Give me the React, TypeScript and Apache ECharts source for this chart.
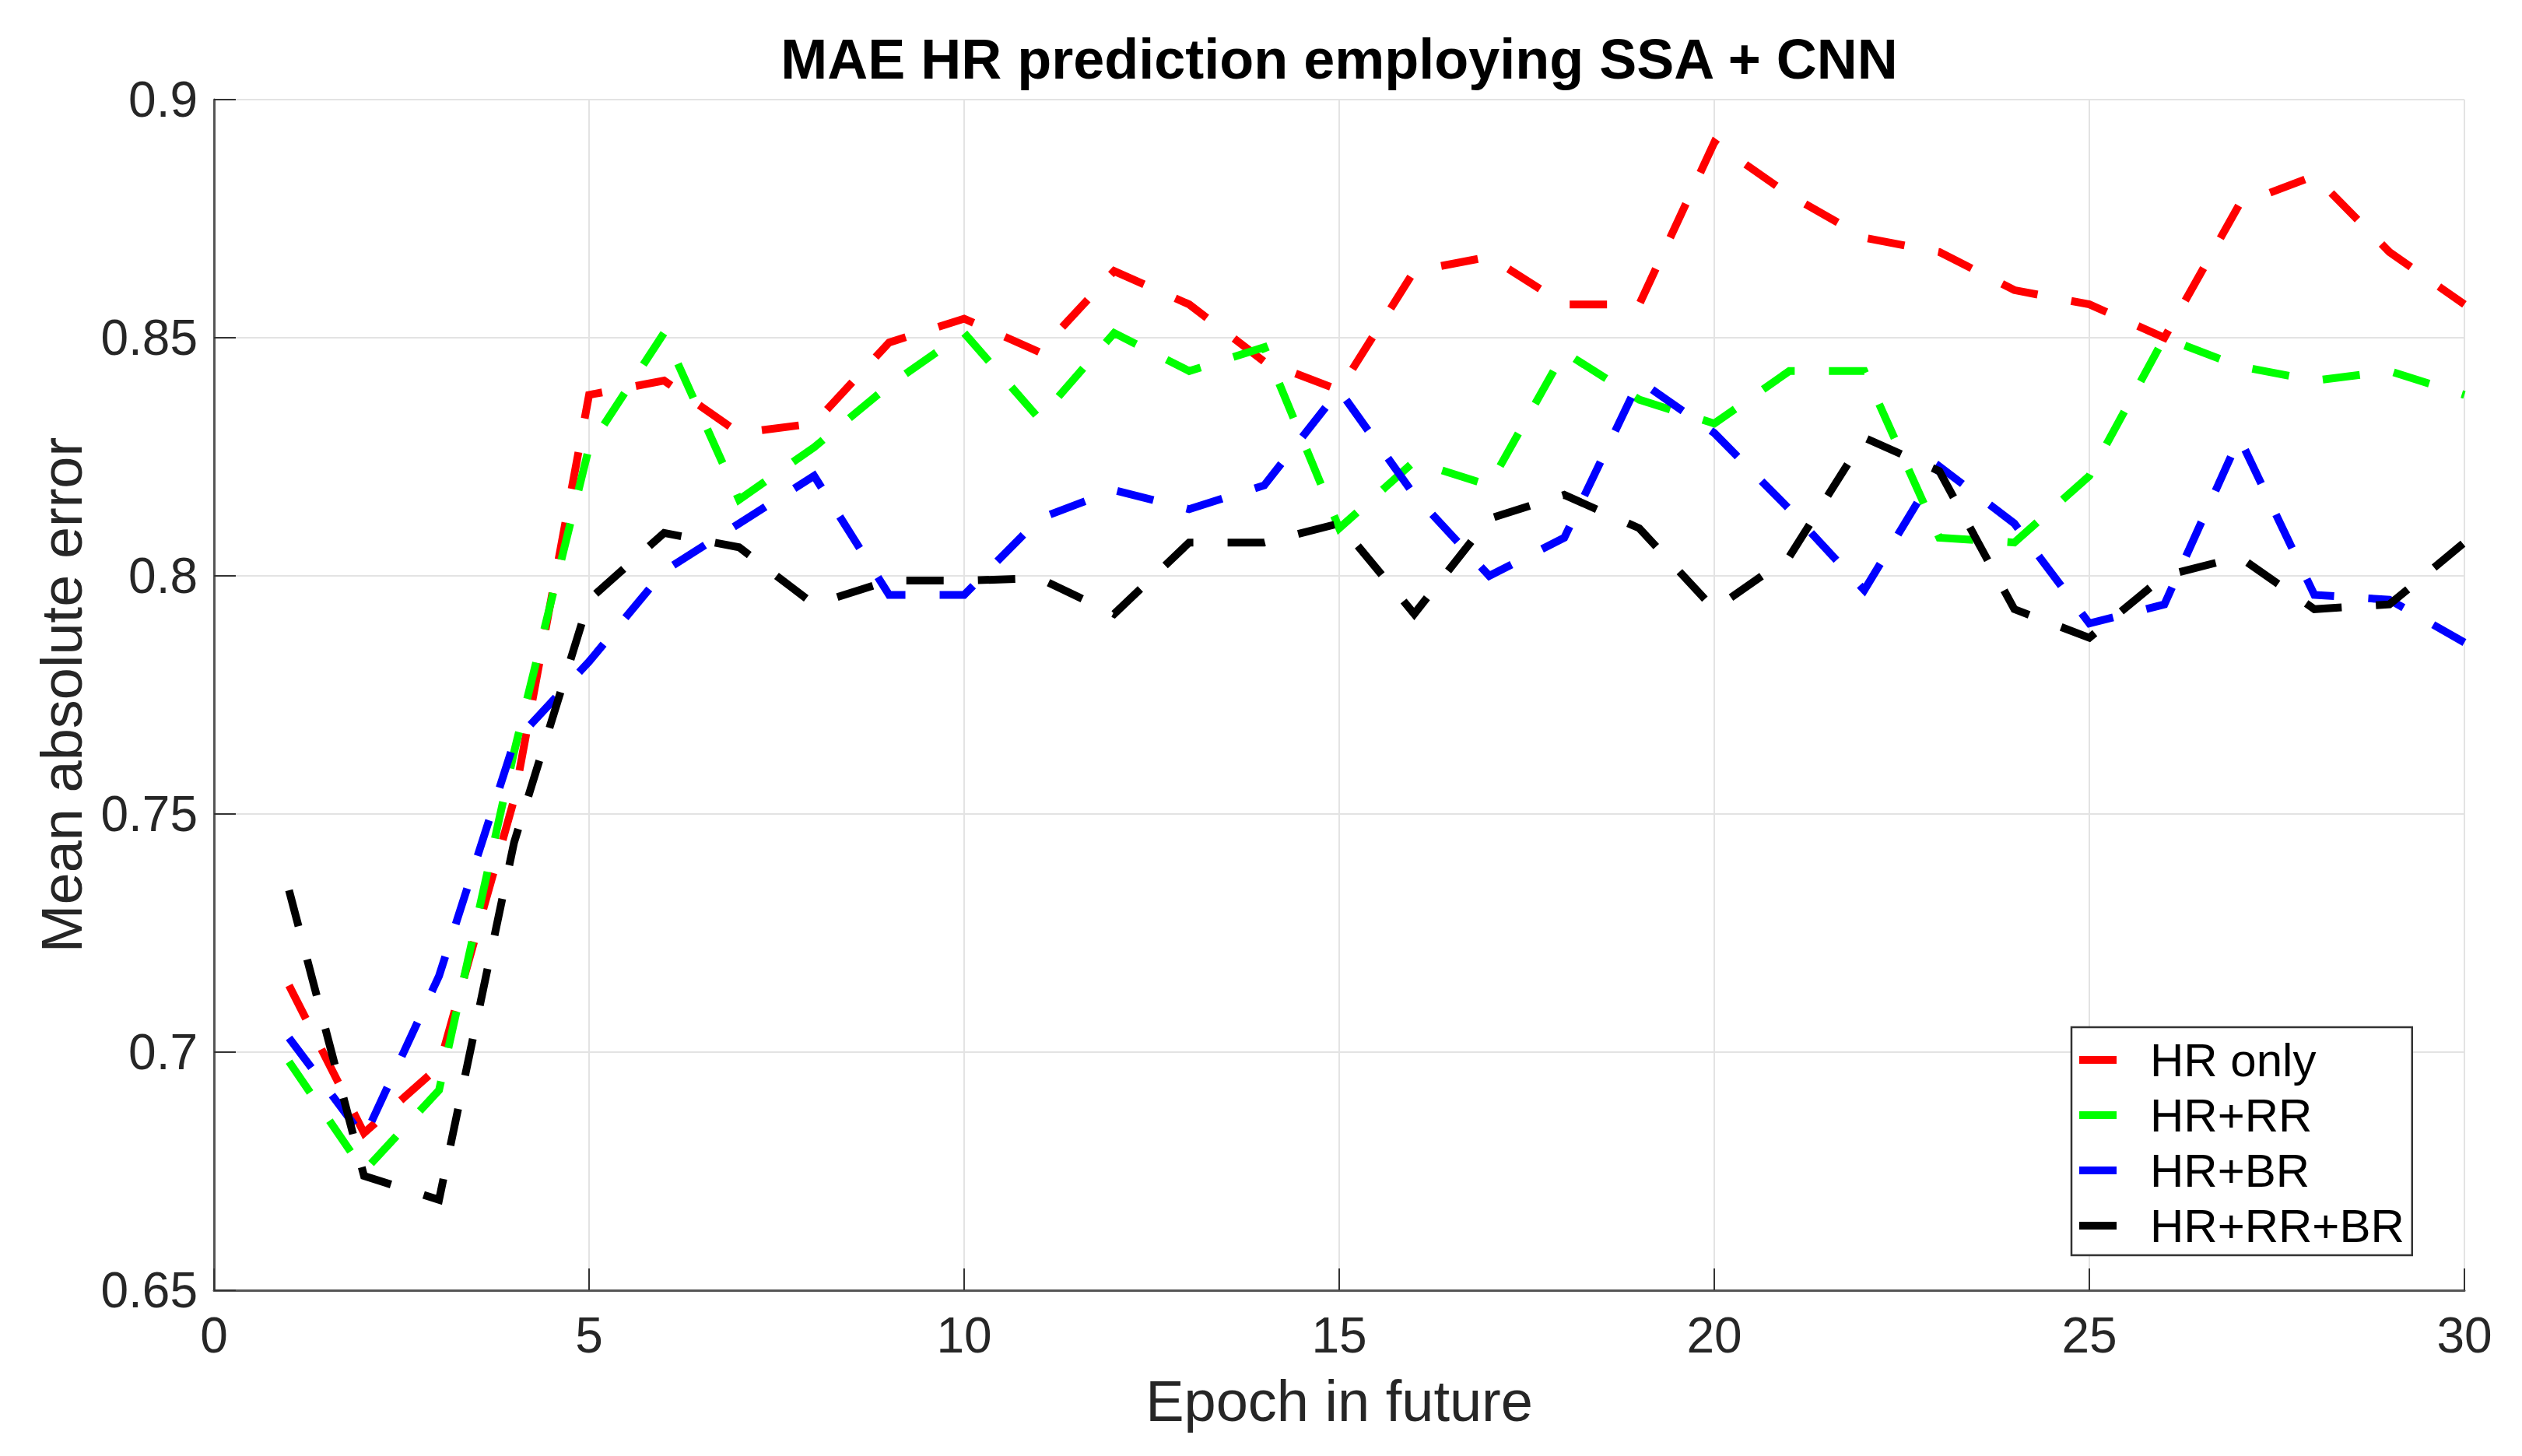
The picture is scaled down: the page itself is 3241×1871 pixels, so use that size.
import React, { useEffect, useRef } from "react";
import * as echarts from "echarts";

const epochs = [1, 2, 3, 4, 5, 6, 7, 8, 9, 10, 11, 12, 13, 14, 15, 16, 17, 18, 19, 20, 21, 22, 23, 24, 25, 26, 27, 28, 29, 30];

const hrOnly = [0.714, 0.683, 0.697, 0.753, 0.838, 0.841, 0.830, 0.832, 0.849, 0.854, 0.847, 0.864, 0.857, 0.845, 0.839, 0.864, 0.867, 0.857, 0.857, 0.891, 0.880, 0.871, 0.868, 0.860, 0.857, 0.850, 0.878, 0.884, 0.868, 0.857];
const hrRr = [0.698, 0.675, 0.692, 0.763, 0.827, 0.851, 0.816, 0.827, 0.840, 0.851, 0.833, 0.851, 0.843, 0.848, 0.810, 0.824, 0.819, 0.847, 0.837, 0.832, 0.843, 0.843, 0.808, 0.807, 0.821, 0.850, 0.844, 0.841, 0.843, 0.838];
const hrBr = [0.703, 0.682, 0.716, 0.765, 0.782, 0.801, 0.811, 0.821, 0.796, 0.796, 0.812, 0.818, 0.814, 0.819, 0.839, 0.817, 0.800, 0.808, 0.841, 0.830, 0.814, 0.797, 0.823, 0.811, 0.790, 0.794, 0.829, 0.796, 0.795, 0.786];
const hrRrBr = [0.734, 0.674, 0.669, 0.744, 0.795, 0.809, 0.806, 0.794, 0.799, 0.799, 0.7995, 0.792, 0.807, 0.807, 0.811, 0.792, 0.812, 0.817, 0.810, 0.793, 0.804, 0.829, 0.822, 0.793, 0.787, 0.800, 0.804, 0.793, 0.794, 0.807];

const seriesNames = ["HR only", "HR+RR", "HR+BR", "HR+RR+BR"];
const seriesColors = ["#ff0000", "#00ff00", "#0000ff", "#000000"];
const seriesValues = [hrOnly, hrRr, hrBr, hrRrBr];

const titleText = "MAE HR prediction employing SSA + CNN";
const xName = "Epoch in future";
const yName = "Mean absolute error";

const FONT = "'Liberation Sans', Arial, Helvetica, sans-serif";

export default function App() {
  const ref = useRef<HTMLDivElement>(null);

  useEffect(() => {
    if (!ref.current) return;
    const chart = echarts.init(ref.current, null, { renderer: "svg" });
    const left = 275;
    const right = 3241 - 3167;
    const top = 128;
    const bottom = 1871 - 1658;

    chart.setOption({
      animation: false,
      backgroundColor: "#ffffff",
      textStyle: { fontFamily: FONT },
      grid: { left, right, top, bottom, containLabel: false },
      graphic: [
        {
          type: "text",
          x: (left + 3167) / 2,
          y: 76,
          style: {
            text: titleText,
            fontSize: 72,
            fontWeight: "bold",
            fontFamily: FONT,
            fill: "#000000",
            align: "center",
            verticalAlign: "middle",
          },
        },
      ],
      xAxis: {
        type: "value",
        min: 0,
        max: 30,
        interval: 5,
        name: xName,
        nameLocation: "middle",
        nameGap: 105,
        nameTextStyle: { fontSize: 74, color: "#262626", fontFamily: FONT },
        axisLine: { show: true, onZero: false, lineStyle: { color: "#555555", width: 3 } },
        axisTick: { show: true, inside: true, length: 28, lineStyle: { color: "#333333", width: 2 } },
        axisLabel: { fontSize: 64, color: "#262626", margin: 26, fontFamily: FONT },
        splitLine: { show: true, lineStyle: { color: "#e3e3e3", width: 2 } },
      },
      yAxis: {
        type: "value",
        min: 0.65,
        max: 0.9,
        interval: 0.05,
        name: yName,
        nameLocation: "middle",
        nameRotate: 90,
        nameGap: 159,
        nameTextStyle: { fontSize: 74, color: "#262626", fontFamily: FONT },
        axisLine: { show: true, lineStyle: { color: "#555555", width: 3 } },
        axisTick: { show: true, inside: true, length: 28, lineStyle: { color: "#333333", width: 2 } },
        axisLabel: {
          fontSize: 64,
          color: "#262626",
          margin: 21,
          fontFamily: FONT,
          formatter: (v: number) => String(parseFloat(v.toFixed(2))),
        },
        splitLine: { show: true, lineStyle: { color: "#e3e3e3", width: 2 } },
      },
      legend: {
        show: true,
        orient: "vertical",
        left: 2662,
        top: 1320,
        selectedMode: false,
        icon: "rect",
        itemWidth: 48,
        itemHeight: 10,
        itemGap: 11,
        padding: [12, 10, 8, 10],
        borderColor: "#333333",
        borderWidth: 2.5,
        backgroundColor: "#ffffff",
        textStyle: { fontSize: 60, color: "#000000", fontFamily: FONT, padding: [0, 0, 0, 38] },
        data: seriesNames,
      },
      series: seriesNames.map((name, i) => ({
        name,
        type: "line",
        data: epochs.map((e, j) => [e, seriesValues[i][j]]),
        showSymbol: false,
        symbol: "none",
        smooth: false,
        color: seriesColors[i],
        lineStyle: { color: seriesColors[i], width: 10, type: [48, 44], cap: "butt", join: "miter" },
        itemStyle: { color: seriesColors[i] },
      })),
    });

    return () => {
      chart.dispose();
    };
  }, []);

  return (
    <div
      ref={ref}
      style={{ position: "absolute", left: 0, top: 0, width: 3241, height: 1871 }}
    />
  );
}
